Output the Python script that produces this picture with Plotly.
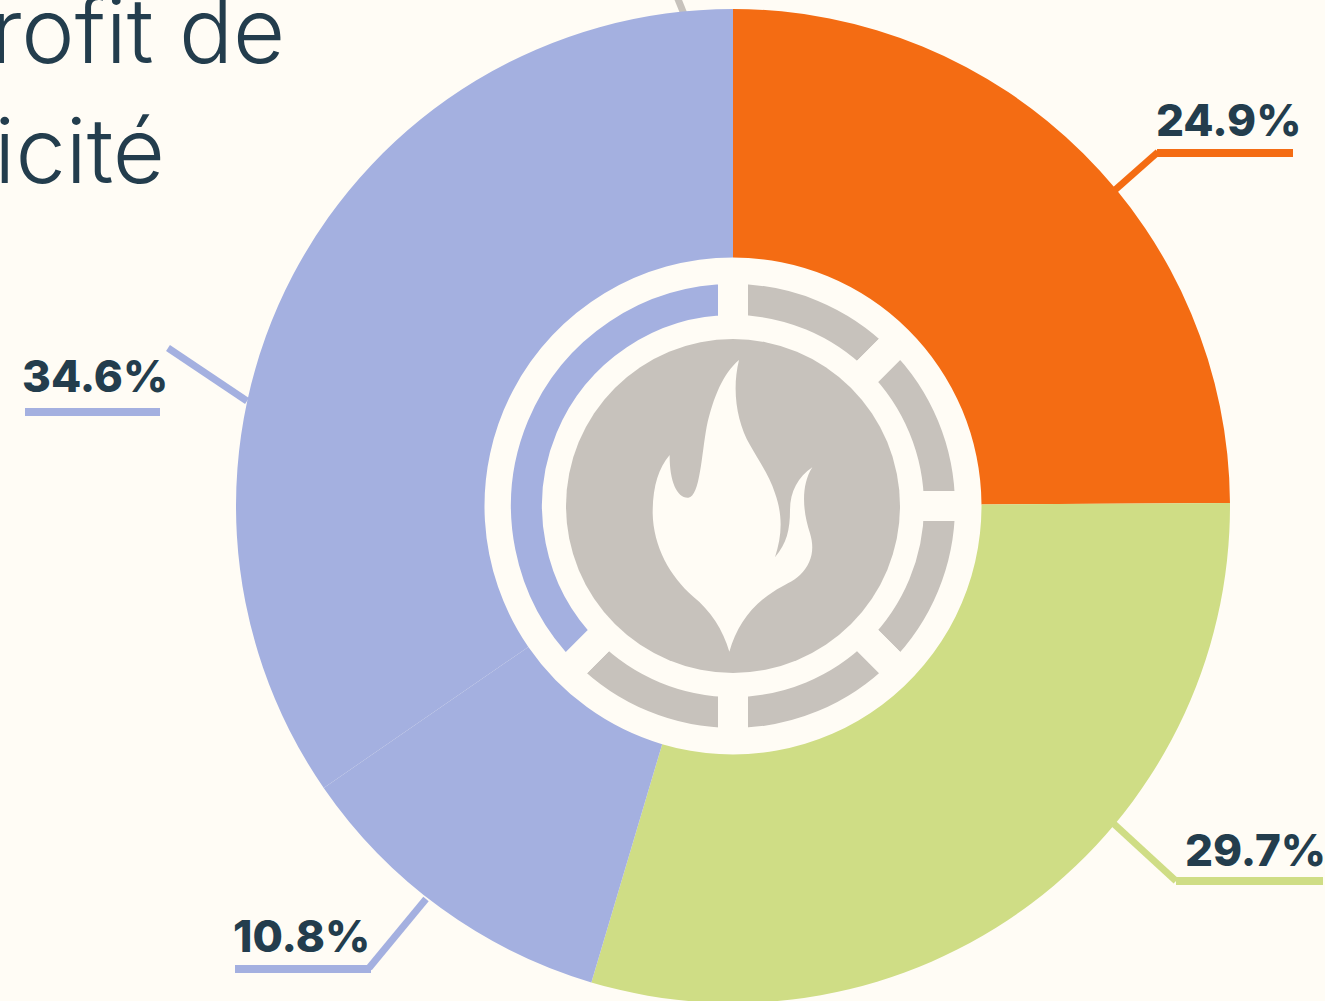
import re
import plotly.graph_objects as go

# Data
slice_labels = ["A", "B", "C", "D"]
slice_values = [24.9, 29.7, 10.8, 34.6]
slice_colors = ["#F46C13", "#CFDD85", "#A4B0E0", "#A4B0E0"]
value_labels = ["24.9%", "29.7%", "10.8%", "34.6%"]
ring_values = [45, 45, 45, 45, 45, 135]
ring_colors = ["#C7C2BC"] * 5 + ["#A4B0E0"]
title_lines = ["Profit de", "publicité"]

BG = "#FFFCF5"
INK = "#233D4D"
GRAY = "#C7C2BC"
W, H = 1325, 1010
CX, CY = 733, 506


def px(x):
    return x / W


def py(y):
    return (H - y) / H


def domain(r):
    return dict(x=[px(CX - r), px(CX + r)], y=[py(CY + r), py(CY - r)])


def line(x0, y0, x1, y1, color, width):
    return dict(type="line", xref="paper", yref="paper", x0=px(x0), y0=py(y0), x1=px(x1), y1=py(y1),
                line=dict(color=color, width=width), layer="below")


FLAME = ("M 537 60 C 490 100 460 170 440 260 C 425 340 420 470 385 473 C 350 475 328 420 329 345 "
         "C 295 385 278 440 278 520 C 280 620 330 710 400 770 C 450 810 490 870 508 935 "
         "C 530 860 570 800 640 755 C 670 735 700 725 720 705 C 755 670 765 630 750 580 "
         "C 730 520 720 440 757 382 C 715 410 690 455 690 510 C 690 570 680 610 645 652 "
         "C 665 590 670 530 645 460 C 630 410 595 360 570 315 C 530 245 515 150 537 60 Z")


def flame_path():
    toks = FLAME.split()
    out, is_x = [], True
    for t in toks:
        if re.match(r"^[A-Z]$", t):
            out.append(t)
            is_x = True
        else:
            v = float(t)
            if is_x:
                out.append(f"{px(560 + v / 3):.5f}")
            else:
                out.append(f"{py(340 + v / 3):.5f}")
            is_x = not is_x
    return " ".join(out)


fig = go.Figure()
fig.add_trace(go.Pie(values=ring_values, sort=False, direction="clockwise", rotation=0,
                     hole=176 / 237, domain=domain(237), textinfo="none", hoverinfo="skip",
                     showlegend=False, marker=dict(colors=ring_colors, line=dict(color=BG, width=30))))
fig.add_trace(go.Pie(labels=slice_labels, values=slice_values, sort=False, direction="clockwise", rotation=0,
                     hole=0.5, domain=domain(497), textinfo="none", hoverinfo="skip",
                     showlegend=False, marker=dict(colors=slice_colors, line=dict(width=0))))

shapes = [
    line(677.5, -2, 684, 14, GRAY, 7),
    line(1115, 190, 1158, 152, slice_colors[0], 7),
    line(1157, 153, 1293, 153, slice_colors[0], 8),
    line(1114, 824, 1176, 881, slice_colors[1], 7),
    line(1176, 881, 1323, 881, slice_colors[1], 8),
    line(426, 899, 369, 968, slice_colors[2], 7),
    line(235, 969, 371, 969, slice_colors[2], 8),
    line(168, 348, 247, 401, slice_colors[3], 7),
    line(25, 412, 160, 412, slice_colors[3], 8),
    dict(type="circle", xref="paper", yref="paper", x0=px(CX - 167), x1=px(CX + 167),
         y0=py(CY + 167), y1=py(CY - 167), fillcolor=GRAY, line=dict(width=0), layer="above"),
    dict(type="path", xref="paper", yref="paper", path=flame_path(), fillcolor=BG,
         line=dict(width=0), layer="above"),
]


def note(text, x, y, size, weight, anchor="left", family="Inter"):
    return dict(text=text, xref="paper", yref="paper", x=px(x), y=py(y), xanchor=anchor, yanchor="middle",
                showarrow=False, font=dict(family=family, size=size, color=INK, weight=weight))


annotations = [
    note(value_labels[0], 1154, 120, 44, 800),
    note(value_labels[1], 1183, 850, 44, 800),
    note(value_labels[2], 231, 936, 44, 800),
    note(value_labels[3], 20, 376, 44, 800),
    note(title_lines[0], 287, 30, 90, 300, "right"),
    note(title_lines[1], 167, 150, 90, 300, "right"),
]

fig.update_layout(width=W, height=H, margin=dict(l=0, r=0, t=0, b=0), autosize=False,
                  paper_bgcolor=BG, plot_bgcolor=BG, shapes=shapes, annotations=annotations,
                  showlegend=False)

fig.write_html("out.html", config=dict(displayModeBar=False),
               post_script="document.body.style.margin='0';document.documentElement.style.overflow='hidden';"
                           "document.body.style.overflow='hidden';document.body.style.background='%s';" % BG)
